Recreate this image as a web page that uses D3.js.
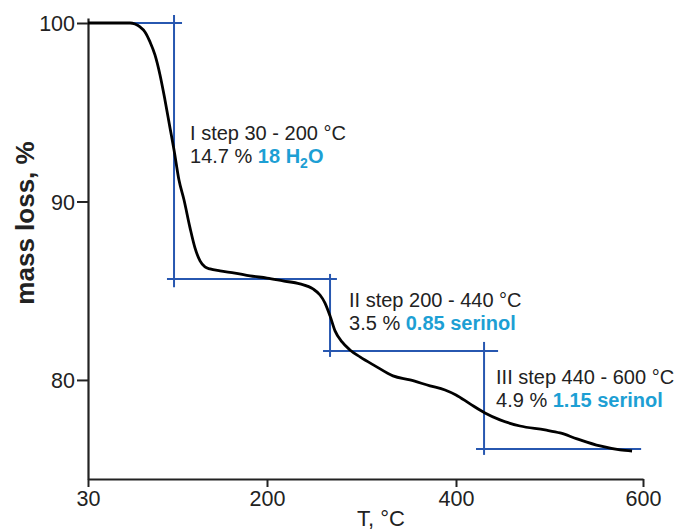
<!DOCTYPE html>
<html><head><meta charset="utf-8">
<script src="https://cdn.jsdelivr.net/npm/d3@7"></script>
<style>
body{margin:0;background:#fff;}
text{font-family:"Liberation Sans",Arial,sans-serif;}
</style></head>
<body><svg id="c" width="680" height="532"></svg>
<script>
// TGA curve: temperature (°C) and mass (%)
const temps = [30,50.9,69.9,74.6,79.4,84.1,88.9,93.6,98.4,103.1,107.9,111.7,116.4,121.2,126.9,131.6,136.4,141.1,145.9,155.4,169.6,183.9,200,216.9,234.9,248.7,256.1,261.4,266.7,272.0,279.4,287.8,298.4,314.3,333.3,351.3,372.5,388.4,400,415.0,431.0,447.1,468.5,495.2,511.3,529.5,554.1,575.5,588.3];
const mass  = [100,100,100,99.94,99.78,99.5,98.94,98.21,97.09,95.69,94.12,92.89,91.2,90.08,88.52,87.4,86.67,86.33,86.22,86.11,85.99,85.83,85.71,85.55,85.38,85.1,84.76,84.31,83.59,82.75,82.13,81.68,81.29,80.79,80.23,80.0,79.67,79.44,79.16,78.66,78.15,77.76,77.42,77.2,77.03,76.7,76.3,76.08,76.02];

const xTicks = [30,200,400,600];
const xTickLabels = ["30","200","400","600"];
const yTicks = [80,90,100];

// construction lines: horizontal [x1,x2,y], vertical [x,y1,y2]
const hLines = [[30,119.3,100],[105,274,85.66],[259.3,445,81.62],[421.4,598,76.13]];
const vLines = [[111.7,100.45,85.2],[266.7,85.94,81.29],[430,82.13,75.8]];

const stepTitles = ["I step 30 - 200 °C","II step 200 - 440 °C","III step 440 - 600 °C"];
const stepPct = ["14.7 %","3.5 %","4.9 %"];
const stepSpecies = [["18 H","2","O"],["0.85 serinol"],["1.15 serinol"]];
const stepPos = [[126.9,93.45],[286.8,84.09],[442.8,79.78]]; // anchor (T, mass) of label

const svg = d3.select("#c");
const ml = 88, mt = 0;
const x = d3.scaleLinear().domain([30,200,400,600]).range([0,179,368,555]);
const y = d3.scaleLinear().domain([74.45,100.28]).range([479,18]);
const g = svg.append("g").attr("transform",`translate(${ml},${mt})`);

const blue = "#2757b0", cyan = "#1d9fd4", ink = "#222";

// axes
const xa = g.append("g").attr("transform","translate(0,479)")
  .call(d3.axisBottom(x).tickValues(xTicks).tickFormat((d,i)=>xTickLabels[i]).tickSize(8).tickSizeOuter(0).tickPadding(4));
const ya = g.append("g")
  .call(d3.axisLeft(y).tickValues(yTicks).tickSize(11).tickSizeOuter(0).tickPadding(2));
[xa,ya].forEach(a=>{
  a.select(".domain").attr("stroke",ink).attr("stroke-width",2.2);
  a.selectAll(".tick line").attr("stroke",ink).attr("stroke-width",2);
  a.selectAll(".tick text").attr("fill",ink).style("font-size","21.5px").style("font-family","'Liberation Sans',Arial,sans-serif");
});
ya.selectAll(".tick text").attr("dy","0.35em");

// construction lines
g.selectAll(".hl").data(hLines).join("line")
  .attr("x1",d=>x(d[0])).attr("x2",d=>x(d[1])).attr("y1",d=>y(d[2])).attr("y2",d=>y(d[2]))
  .attr("stroke",blue).attr("stroke-width",2);
g.selectAll(".vl").data(vLines).join("line")
  .attr("x1",d=>x(d[0])).attr("x2",d=>x(d[0])).attr("y1",d=>y(d[1])).attr("y2",d=>y(d[2]))
  .attr("stroke",blue).attr("stroke-width",2);

// curve
const pts = temps.map((t,i)=>[t,mass[i]]);
g.append("path").datum(pts)
  .attr("d",d3.line().x(d=>x(d[0])).y(d=>y(d[1])).curve(d3.curveMonotoneX))
  .attr("fill","none").attr("stroke","#000").attr("stroke-width",2.8);

// step labels
stepTitles.forEach((s,i)=>{
  const px = x(stepPos[i][0]), py = y(stepPos[i][1]);
  g.append("text").attr("x",px).attr("y",py).attr("fill",ink).style("font-size","20px").text(s);
  const t2 = g.append("text").attr("x",px).attr("y",py+23).attr("fill",ink).style("font-size","20px");
  t2.append("tspan").text(stepPct[i]+" ");
  const sp = stepSpecies[i];
  t2.append("tspan").attr("fill",cyan).style("font-weight","bold").text(sp[0]);
  if(sp.length>1){
    t2.append("tspan").attr("fill",cyan).style("font-weight","bold").style("font-size","14px").attr("dy",5).text(sp[1]);
    t2.append("tspan").attr("fill",cyan).style("font-weight","bold").attr("dy",-5).text(sp[2]);
  }
});

// axis titles
svg.append("text").attr("transform","translate(34,223) rotate(-90)").attr("text-anchor","middle")
  .attr("fill",ink).style("font-size","26px").style("font-weight","bold").text("mass loss, %");
svg.append("text").attr("x",381).attr("y",526).attr("text-anchor","middle")
  .attr("fill",ink).style("font-size","22px").text("T, °C");
</script></body></html>
